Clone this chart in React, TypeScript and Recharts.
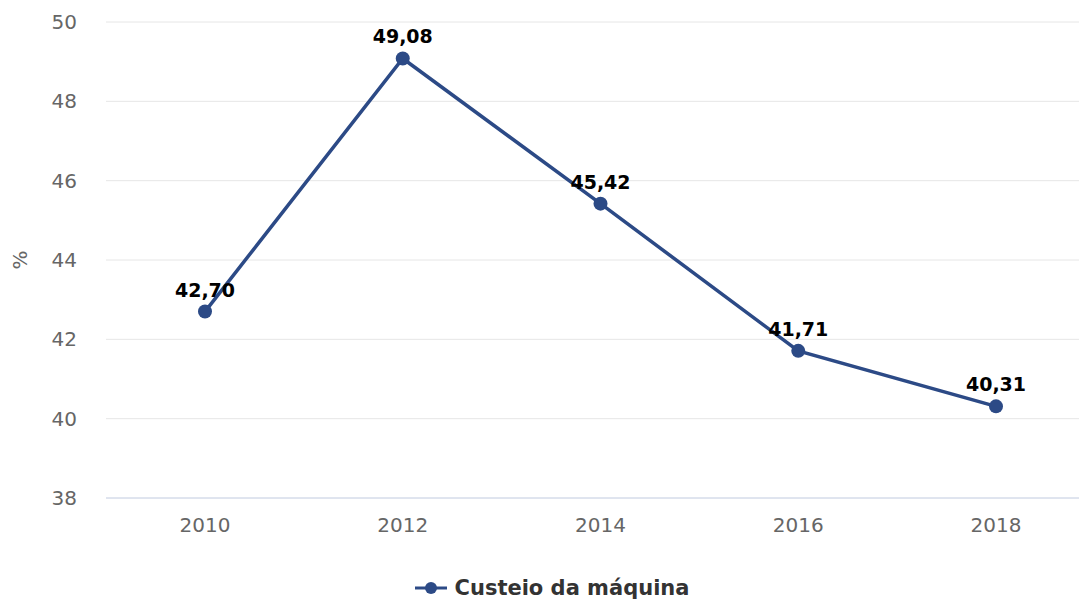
import React from "react";
import { CartesianGrid, LabelList, Legend, Line, LineChart, XAxis, YAxis } from "recharts";

const years = ["2010", "2012", "2014", "2016", "2018"];
const custeio = [42.7, 49.08, 45.42, 41.71, 40.31];
const yTicks = [38, 40, 42, 44, 46, 48, 50];

const data = years.map((year, i) => ({ year, custeio: custeio[i] }));

const LINE_COLOR = "#2c4a86";
const FONT = "'DejaVu Sans', Verdana, sans-serif";

function fmt(v: unknown): string {
  return Number(v).toFixed(2).replace(".", ",");
}

function LegendContent() {
  return (
    <div
      style={{
        display: "flex",
        justifyContent: "center",
        alignItems: "center",
        height: 28,
        fontFamily: FONT,
      }}
    >
      <svg width={32} height={16} style={{ marginRight: 8 }}>
        <line x1={0} y1={8} x2={32} y2={8} stroke={LINE_COLOR} strokeWidth={3} />
        <circle cx={16} cy={8} r={6} fill={LINE_COLOR} />
      </svg>
      <span style={{ fontSize: 21, fontWeight: "bold", color: "#333333" }}>Custeio da máquina</span>
    </div>
  );
}

function YLabel(props: any) {
  const vb = props.viewBox || { x: 0, y: 0, width: 0, height: 0 };
  const x = vb.x + 20;
  const y = vb.y + vb.height / 2;
  return (
    <text
      x={x}
      y={y}
      transform={`rotate(-90, ${x}, ${y})`}
      textAnchor="middle"
      dominantBaseline="central"
      fill="#666666"
      fontSize={20}
      fontFamily={FONT}
    >
      %
    </text>
  );
}

export default function App() {
  return (
    <div
      style={{
        margin: "-8px 0 0 -8px",
        width: 1087,
        height: 600,
        overflowX: "clip",
        position: "relative",
        background: "#ffffff",
        fontFamily: FONT,
      }}
    >
      <LineChart width={1095} height={600} data={data} margin={{ top: 22, right: 0, left: 0, bottom: 0 }}>
        <CartesianGrid vertical={false} stroke="#e6e6e6" strokeWidth={1} />
        <XAxis
          dataKey="year"
          height={102}
          padding={{ left: 99, right: 99 }}
          tickLine={false}
          tickSize={0}
          tickMargin={20}
          axisLine={{ stroke: "#ccd6eb", strokeWidth: 1 }}
          tick={{ fill: "#666666", fontSize: 20, fontFamily: FONT }}
        />
        <YAxis
          width={106}
          domain={[38, 50]}
          ticks={yTicks}
          interval={0}
          axisLine={false}
          tickLine={false}
          tickSize={0}
          tickMargin={29}
          tick={{ fill: "#666666", fontSize: 20, fontFamily: FONT }}
          label={<YLabel />}
        />
        <Legend
          verticalAlign="middle"
          align="center"
          layout="horizontal"
          content={<LegendContent />}
          wrapperStyle={{ top: 574, left: 0, width: 1104, height: 28 }}
        />
        <Line
          type="linear"
          dataKey="custeio"
          name="Custeio da máquina"
          stroke={LINE_COLOR}
          strokeWidth={3.5}
          dot={{ r: 7, fill: LINE_COLOR, stroke: LINE_COLOR, strokeWidth: 0 }}
          activeDot={false}
          isAnimationActive={false}
        >
          <LabelList
            dataKey="custeio"
            position="top"
            offset={15}
            formatter={fmt}
            fill="#000000"
            fontSize={19}
            fontWeight="bold"
            fontFamily={FONT}
          />
        </Line>
      </LineChart>
    </div>
  );
}
